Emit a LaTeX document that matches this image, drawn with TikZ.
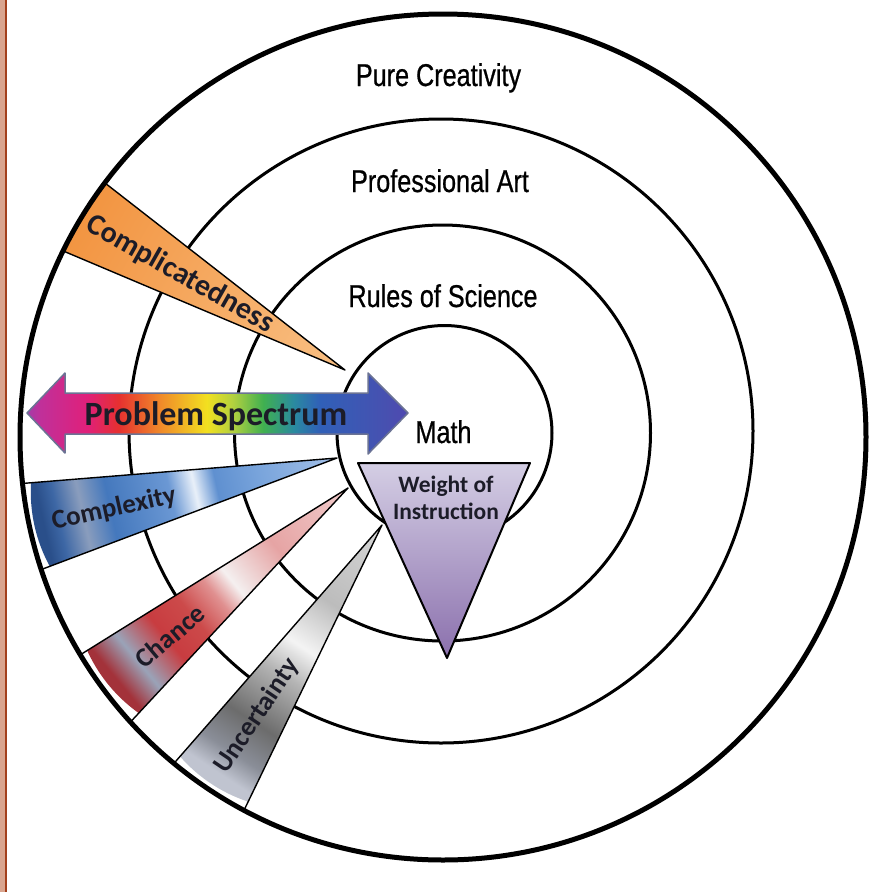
\documentclass[tikz,border=0pt]{standalone}
\usepackage{fontspec}
\setmainfont{Carlito}
\newfontfamily\narrowfont[FakeStretch=0.8, FakeBold=0.7]{Liberation Sans}
\usepackage{xcolor}
\usepackage{tikz}
\usetikzlibrary{calc}

\definecolor{BorderBrown}{HTML}{A3401D}
\definecolor{BorderPink}{HTML}{D9A58F}
\definecolor{LabelInk}{HTML}{1C1C28}
\definecolor{ArrowEdge}{HTML}{6B7394}
\definecolor{WeightTop}{HTML}{D4CEE4}
\definecolor{WeightBot}{HTML}{8B70AD}

\definecolor{spA}{HTML}{A43CA8}
\definecolor{spB}{HTML}{C0309A}
\definecolor{spC}{HTML}{E0207A}
\definecolor{spD}{HTML}{E63030}
\definecolor{spE}{HTML}{F08A2A}
\definecolor{spF}{HTML}{F2E020}
\definecolor{spG}{HTML}{B0D040}
\definecolor{spH}{HTML}{40B050}
\definecolor{spI}{HTML}{2A8AA0}
\definecolor{spJ}{HTML}{3060B8}
\definecolor{spK}{HTML}{4850B0}
\definecolor{spL}{HTML}{5048B0}

\definecolor{orTip}{HTML}{F9C084}
\definecolor{orOut}{HTML}{F29440}

\definecolor{buA}{HTML}{A3C0E8}
\definecolor{buB}{HTML}{7AA5DC}
\definecolor{buC}{HTML}{5F90D0}
\definecolor{buD}{HTML}{E9F0F9}
\definecolor{buE}{HTML}{6B98D4}
\definecolor{buF}{HTML}{4478BD}
\definecolor{buG}{HTML}{8A9DBD}
\definecolor{buH}{HTML}{3D67A5}
\definecolor{buI}{HTML}{2A4F8A}

\definecolor{rdA}{HTML}{F1CCCC}
\definecolor{rdB}{HTML}{E6A4A4}
\definecolor{rdC}{HTML}{F0DEDE}
\definecolor{rdD}{HTML}{F5F0F0}
\definecolor{rdE}{HTML}{E09090}
\definecolor{rdF}{HTML}{CC4A4A}
\definecolor{rdG}{HTML}{C83C40}
\definecolor{rdH}{HTML}{9AA3B8}
\definecolor{rdI}{HTML}{A3323A}

\definecolor{gyA}{HTML}{D6D6D6}
\definecolor{gyB}{HTML}{BCBCBC}
\definecolor{gyC}{HTML}{F4F4F4}
\definecolor{gyD}{HTML}{B4B4B4}
\definecolor{gyE}{HTML}{6C6C6C}
\definecolor{gyF}{HTML}{8A8E98}
\definecolor{gyG}{HTML}{C0C4D0}

\pgfdeclarehorizontalshading{spectrum}{100bp}{color(0bp)=(spA); color(25bp)=(spA); color(26.7bp)=(spB); color(32.9bp)=(spC); color(37bp)=(spD); color(42.5bp)=(spE); color(48.6bp)=(spF); color(52.1bp)=(spG); color(56bp)=(spH); color(60bp)=(spI); color(63.4bp)=(spJ); color(72.3bp)=(spK); color(75bp)=(spL); color(100bp)=(spL)}
\pgfdeclarehorizontalshading{cdshade}{100bp}{color(0bp)=(orTip); color(25bp)=(orTip); color(75bp)=(orOut); color(100bp)=(orOut)}
\pgfdeclarehorizontalshading{cxshade}{100bp}{color(0bp)=(buA); color(25bp)=(buA); color(37.5bp)=(buB); color(45bp)=(buC); color(48.5bp)=(buD); color(52.5bp)=(buE); color(62.5bp)=(buF); color(67bp)=(buG); color(71bp)=(buH); color(73.5bp)=(buI); color(100bp)=(buI)}
\pgfdeclarehorizontalshading{chshade}{100bp}{color(0bp)=(rdA); color(25bp)=(rdA); color(40bp)=(rdB); color(47bp)=(rdC); color(49bp)=(rdD); color(52.5bp)=(rdE); color(57.5bp)=(rdF); color(63bp)=(rdG); color(69bp)=(rdH); color(73.5bp)=(rdI); color(100bp)=(rdI)}
\pgfdeclarehorizontalshading{unshade}{100bp}{color(0bp)=(gyA); color(25bp)=(gyA); color(40bp)=(gyB); color(48.5bp)=(gyC); color(54bp)=(gyD); color(63bp)=(gyE); color(69bp)=(gyF); color(73bp)=(gyG); color(100bp)=(gyG)}

\begin{document}
\begin{tikzpicture}[x=1pt, y=1pt,
  ring/.style={line width=3pt},
  ringlabel/.style={font=\narrowfont\fontsize{31.5}{36}\selectfont, inner sep=0pt, anchor=base},
  wedgeline/.style={draw=black, line width=1.4pt, line join=round},
  wedgelabel/.style={font=\bfseries\fontsize{27}{32}\selectfont, text=LabelInk, inner sep=0pt}]

\useasboundingbox (0,0) rectangle (871,-892);
\fill[white] (0,0) rectangle (871,-892);
\fill[BorderPink] (0,0) rectangle (5,-892);
\draw[BorderBrown, line width=2.5pt] (6.2,0) -- (6.2,-892);

\draw[ring] (441,-431) circle (312);
\draw[ring] (442.5,-433) circle (208);
\draw[ring] (444.5,-433) circle (107.5);

\node[ringlabel] (pure) at (438.5,-86) {Pure Creativity};
\node[ringlabel] (prof) at (440,-192) {Professional Art};
\node[ringlabel] (rules) at (443,-307) {Rules of Science};
\node[ringlabel] (math) at (443.5,-443) {Math};

\coordinate (cdTip) at (345,-370);
\coordinate (cdA) at (105,-183);
\coordinate (cdB) at (68,-253);
\coordinate (cxTip) at (337,-458);
\coordinate (cxA) at (28,-483);
\coordinate (cxB) at (48,-567);
\coordinate (chTip) at (348,-488);
\coordinate (chA) at (88,-650);
\coordinate (chB) at (137,-715);
\coordinate (unTip) at (382,-525);
\coordinate (unA) at (183,-753);
\coordinate (unB) at (248,-802);

\begin{scope}
\clip (443,-437) circle (423);
\foreach \w/\ang/\cx/\cy in {cd/149.5/211.4/-291.4, cx/192.6/185.8/-491.9, ch/219.6/228.5/-586.7, un/236.6/296.7/-654.4}{
  \begin{scope}
  \clip (\w Tip) -- ($(\w Tip)!1.06!(\w A)$) -- ($(\w Tip)!1.06!(\w B)$) -- cycle;
  \shade[shading=\w shade, shading angle=\ang] (\cx,\cy) circle (155);
  \end{scope}
  \draw[wedgeline] (\w Tip) -- ($(\w Tip)!1.06!(\w A)$) -- ($(\w Tip)!1.06!(\w B)$) -- cycle;
}
\end{scope}

\node[wedgelabel, font=\bfseries\fontsize{30}{34}\selectfont, rotate=-29.5] (complicated) at (180,-274) {Complicatedness};
\node[wedgelabel, rotate=12.5] (complexity) at (114,-509) {Complexity};
\node[wedgelabel, rotate=40] (chance) at (170,-636) {Chance};
\node[wedgelabel, rotate=56] (uncertain) at (257,-716) {Uncertainty};

\shadedraw[shading=spectrum, draw=ArrowEdge, line width=1.5pt, line join=round] (27,-413) -- (65,-373) -- (65,-393) -- (368,-393) -- (368,-373) -- (408,-413) -- (368,-454) -- (368,-434) -- (65,-434) -- (65,-453) -- cycle;
\node[font=\bfseries\fontsize{34}{40}\selectfont, text=LabelInk, inner sep=0pt, anchor=base] (spectrum) at (216,-425) {Problem Spectrum};

\shadedraw[top color=WeightTop, bottom color=WeightBot, draw=black, line width=2pt, line join=round] (358,-463) -- (530,-463) -- (447,-658) -- cycle;
\node[font=\bfseries\fontsize{23.5}{27}\selectfont, align=center, text=LabelInk, inner sep=0pt] (weight) at (446,-498) {Weight of\\Instruction};

\draw[line width=5pt] (443,-437) circle (423);
\end{tikzpicture}
\end{document}
